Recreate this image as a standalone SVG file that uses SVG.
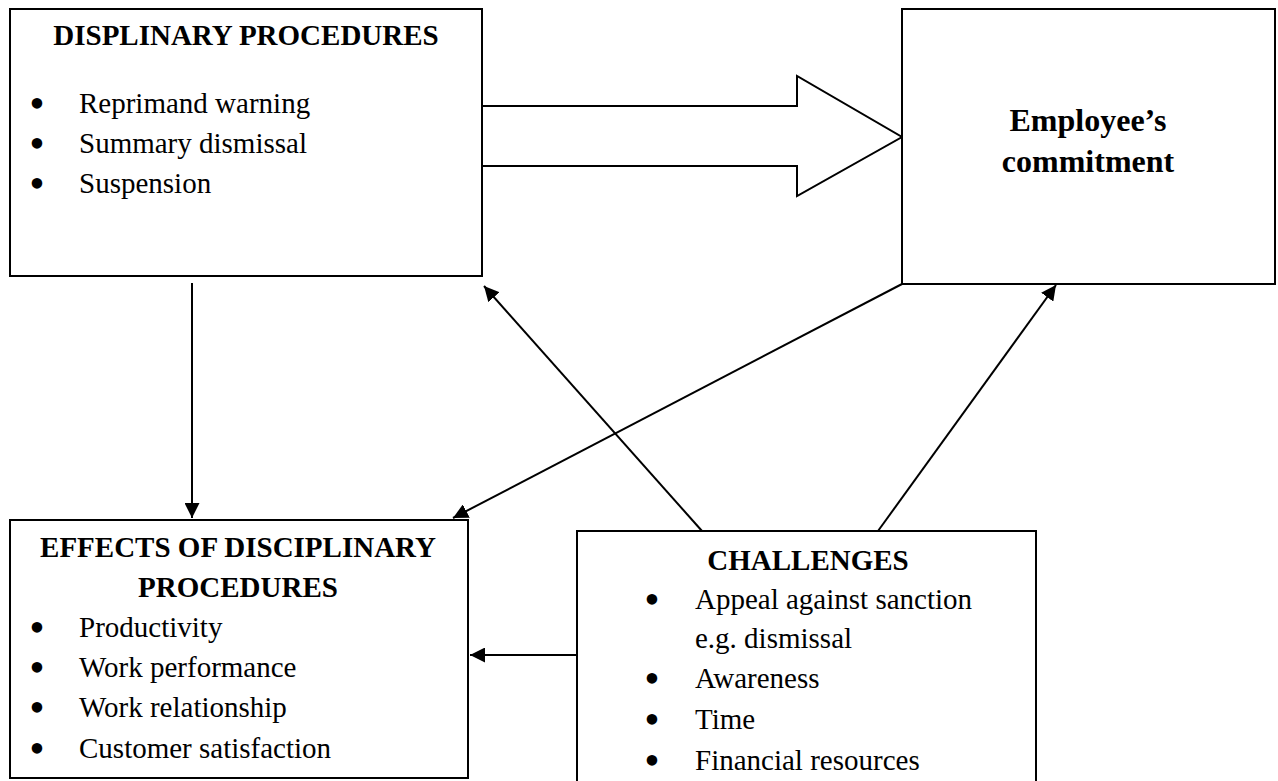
<svg xmlns="http://www.w3.org/2000/svg" width="1278" height="781" viewBox="0 0 1278 781">
<defs>
<style>
.box{fill:#fff;stroke:#000;stroke-width:2}
.t{font-family:"Liberation Serif","Times New Roman",serif;font-size:29px;fill:#000}
.b{font-weight:bold}
.big{font-size:32px}
.c{text-anchor:middle}
.bu{font-family:"Liberation Serif","Times New Roman",serif;font-size:44px;fill:#000;text-anchor:middle}
.con{stroke:#000;stroke-width:2;fill:none}
</style>
<marker id="ah2" viewBox="0 0 10 10" refX="10" refY="5" markerWidth="7.5" markerHeight="7.5" orient="auto">
<path d="M0,0 L10,5 L0,10 z" fill="#000"/>
</marker>
</defs>
<rect width="1278" height="781" fill="#fff"/>

<g id="connectors">
<path class="con" d="M192,283 L192,518" marker-end="url(#ah2)"/>
<path class="con" d="M902,284 L453,518" marker-end="url(#ah2)"/>
<path class="con" d="M702,531 L484,286" marker-end="url(#ah2)"/>
<path class="con" d="M878,531 L1056,285" marker-end="url(#ah2)"/>
<path class="con" d="M577,655 L470,655" marker-end="url(#ah2)"/>
<path id="block-arrow" d="M482,106 L797,106 L797,76 L902,137 L797,196 L797,166 L482,166" fill="#fff" stroke="#000" stroke-width="2" stroke-linejoin="miter"/>
</g>

<g id="node-procedures">
<rect class="box" x="10" y="9" width="472" height="267"/>
<text class="t b c" x="246" y="45">DISPLINARY PROCEDURES</text>
<text class="bu" x="37" y="118">•</text><text class="t" x="79" y="113">Reprimand warning</text>
<text class="bu" x="37" y="158">•</text><text class="t" x="79" y="153">Summary dismissal</text>
<text class="bu" x="37" y="198">•</text><text class="t" x="79" y="193">Suspension</text>
</g>

<g id="node-commitment">
<rect class="box" x="902" y="9" width="373" height="275"/>
<text class="t b big c" x="1088" y="131">Employee’s</text>
<text class="t b big c" x="1088" y="172">commitment</text>
</g>

<g id="node-effects">
<rect class="box" x="10" y="520" width="458" height="258"/>
<text class="t b c" x="238" y="557">EFFECTS OF DISCIPLINARY</text>
<text class="t b c" x="238" y="597">PROCEDURES</text>
<text class="bu" x="37" y="642">•</text><text class="t" x="79" y="637">Productivity</text>
<text class="bu" x="37" y="682">•</text><text class="t" x="79" y="677">Work performance</text>
<text class="bu" x="37" y="722">•</text><text class="t" x="79" y="717">Work relationship</text>
<text class="bu" x="37" y="763">•</text><text class="t" x="79" y="758">Customer satisfaction</text>
</g>

<g id="node-challenges">
<rect class="box" x="577" y="531" width="459" height="270"/>
<text class="t b c" x="808" y="570">CHALLENGES</text>
<text class="bu" x="652" y="614">•</text><text class="t" x="695" y="609">Appeal against sanction</text>
<text class="t" x="695" y="648">e.g. dismissal</text>
<text class="bu" x="652" y="693">•</text><text class="t" x="695" y="688">Awareness</text>
<text class="bu" x="652" y="734">•</text><text class="t" x="695" y="729">Time</text>
<text class="bu" x="652" y="775">•</text><text class="t" x="695" y="770">Financial resources</text>
</g>
</svg>
